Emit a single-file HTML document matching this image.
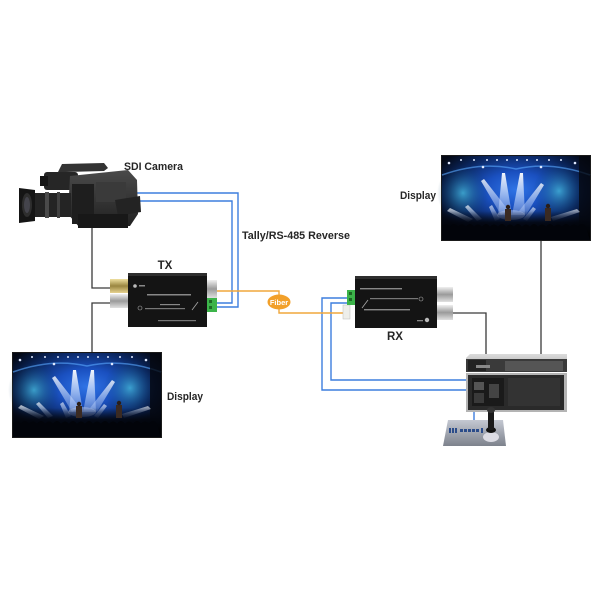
<!DOCTYPE html>
<html><head><meta charset="utf-8"><style>
html,body{margin:0;padding:0;background:#fff;}
svg{display:block;}
text{font-family:"Liberation Sans",Arial,sans-serif;}
</style></head><body>
<svg width="600" height="600" viewBox="0 0 600 600" xmlns="http://www.w3.org/2000/svg">
<defs>
  <radialGradient id="stage" cx="0.5" cy="0.4" r="0.6">
    <stop offset="0" stop-color="#2f74e6"/>
    <stop offset="0.35" stop-color="#1a50c0"/>
    <stop offset="0.7" stop-color="#0b2864"/>
    <stop offset="1" stop-color="#030814"/>
  </radialGradient>
  <radialGradient id="teal" cx="0.5" cy="0.5" r="0.5">
    <stop offset="0" stop-color="#45b8dc" stop-opacity="0.8"/>
    <stop offset="1" stop-color="#0a3a6a" stop-opacity="0"/>
  </radialGradient>
  <linearGradient id="beam" x1="0" y1="0" x2="0" y2="1">
    <stop offset="0" stop-color="#ffffff" stop-opacity="0.95"/>
    <stop offset="1" stop-color="#bcd4ff" stop-opacity="0.3"/>
  </linearGradient>
  <linearGradient id="crowd" x1="0" y1="0" x2="0" y2="1">
    <stop offset="0" stop-color="#050a18" stop-opacity="0"/>
    <stop offset="0.4" stop-color="#03060e" stop-opacity="0.9"/>
    <stop offset="1" stop-color="#000" stop-opacity="1"/>
  </linearGradient>
  <linearGradient id="rackTop" x1="0" y1="0" x2="0" y2="1">
    <stop offset="0" stop-color="#dcdcdc"/>
    <stop offset="1" stop-color="#a0a0a0"/>
  </linearGradient>
  <linearGradient id="kb" x1="0" y1="0" x2="0" y2="1">
    <stop offset="0" stop-color="#c4c8d2"/>
    <stop offset="1" stop-color="#7d828c"/>
  </linearGradient>
  <linearGradient id="silver" x1="0" y1="0" x2="0" y2="1">
    <stop offset="0" stop-color="#f0f0f0"/>
    <stop offset="0.5" stop-color="#9a9a9a"/>
    <stop offset="1" stop-color="#e0e0e0"/>
  </linearGradient>
  <linearGradient id="gold" x1="0" y1="0" x2="0" y2="1">
    <stop offset="0" stop-color="#efe0a0"/>
    <stop offset="0.5" stop-color="#9a8640"/>
    <stop offset="1" stop-color="#e6d290"/>
  </linearGradient>
  <linearGradient id="camBody" x1="0" y1="0" x2="0" y2="1">
    <stop offset="0" stop-color="#4a4a4a"/>
    <stop offset="1" stop-color="#202020"/>
  </linearGradient>
  <g id="concert">
    <rect x="0" y="0" width="150" height="86" fill="#1a1a1a"/>
    <rect x="1" y="1" width="148" height="84" fill="url(#stage)"/>
    <ellipse cx="22" cy="38" rx="26" ry="28" fill="url(#teal)"/>
    <ellipse cx="118" cy="36" rx="26" ry="28" fill="url(#teal)"/>
    <path d="M1,20 Q40,6 75,14 Q110,6 149,20" stroke="#5aa8ff" stroke-width="1.5" fill="none" opacity="0.6"/>
    <rect x="138" y="1" width="11" height="84" fill="#05080f" opacity="0.8"/>
    <g fill="#dfe9ff">
      <circle cx="8" cy="8" r="1.3"/><circle cx="20" cy="5" r="1"/><circle cx="33" cy="5" r="1"/>
      <circle cx="46" cy="5" r="1"/><circle cx="56" cy="5" r="1"/><circle cx="66" cy="5" r="1"/>
      <circle cx="76" cy="5" r="1"/><circle cx="86" cy="5" r="1"/><circle cx="96" cy="5" r="1"/>
      <circle cx="108" cy="5" r="1"/><circle cx="120" cy="5" r="1"/><circle cx="134" cy="8" r="1.3"/>
      <circle cx="42" cy="12" r="1.3"/><circle cx="100" cy="12" r="1.3"/>
    </g>
    <g fill="url(#beam)">
      <polygon points="61,18 64,18 71,60 57,60"/>
      <polygon points="79,18 82,18 84,60 71,60"/>
      <polygon points="40,26 43,24 68,56 60,60" opacity="0.85"/>
      <polygon points="100,28 103,30 85,60 78,56" opacity="0.85"/>
      <polygon points="6,56 9,53 32,64 27,67" opacity="0.75"/>
      <polygon points="24,52 27,50 41,64 36,66" opacity="0.75"/>
      <polygon points="136,54 139,57 112,66 110,62" opacity="0.65"/>
      <polygon points="48,52 51,50 59,64 54,66" opacity="0.65"/>
      <polygon points="92,52 95,54 86,66 82,64" opacity="0.65"/>
    </g>
    <ellipse cx="70" cy="60" rx="14" ry="5" fill="#dfe8ff" opacity="0.35"/>
    <rect x="1" y="56" width="148" height="29" fill="url(#crowd)"/>
    <path d="M1,72 q4,-5 8,0 q4,-6 8,0 q4,-5 8,0 q4,-6 8,0 q4,-5 8,0 q4,-6 8,0 q4,-5 8,0 q4,-6 8,0 q4,-5 8,0 q4,-6 8,0 q4,-5 8,0 q4,-6 8,0 q4,-5 8,0 q4,-6 8,0 q4,-5 8,0 q4,-6 8,0 q4,-5 8,0 q4,-6 8,0 L149,85 L1,85 Z" fill="#02040a"/>
    <rect x="64" y="54" width="6" height="12" fill="#3a2a22"/>
    <circle cx="67" cy="52" r="2.2" fill="#2a1e18"/>
    <rect x="104" y="53" width="6" height="13" fill="#3a2a22"/>
    <circle cx="107" cy="51" r="2.2" fill="#2a1e18"/>
  </g>
</defs>

<rect width="600" height="600" fill="#fff"/>

<!-- Black connectors -->
<g stroke="#3a3a3a" stroke-width="1.3" fill="none">
  <path d="M92,226 V288 H112"/>
  <path d="M112,303 H92 V352"/>
  <path d="M541,241 V356"/>
  <path d="M452,313 H486 V356"/>
</g>

<!-- Blue connectors -->
<g stroke="#3d7ede" stroke-width="1.4" fill="none">
  <path d="M137,193 H238 V307 H215"/>
  <path d="M137,201 H232 V303 H215"/>
  <path d="M347,298 H322 V390 H467"/>
  <path d="M347,303 H331 V380 H467"/>
  <path d="M474,412 V440"/>
</g>

<!-- Orange fiber -->
<g stroke="#f0a73c" stroke-width="1.4" fill="none">
  <path d="M217,291 H279 V296"/>
  <path d="M279,308 V313 H344"/>
</g>
<ellipse cx="279" cy="302" rx="11.5" ry="7.5" fill="#f2a02a"/>
<text x="279" y="305" font-size="7.5" font-weight="bold" fill="#fff" text-anchor="middle">Fiber</text>

<!-- Camera -->
<g>
  <path d="M58,172 L62,164 L104,163 L108,168 L104,171 L66,172 Z" fill="#333"/>
  <rect x="44" y="172" width="34" height="18" rx="3" fill="#262626"/>
  <rect x="40" y="176" width="8" height="10" fill="#161616"/>
  <path d="M70,176 L128,170 L137,180 L138,214 L130,226 L80,228 L68,214 Z" fill="url(#camBody)"/>
  <rect x="72" y="184" width="22" height="40" fill="#1e1e1e"/>
  <rect x="96" y="182" width="30" height="20" fill="#3a3a3a"/>
  <path d="M115,200 L140,196 L141,212 L118,216 Z" fill="#232323"/>
  <rect x="78" y="214" width="50" height="14" fill="#181818"/>
  <rect x="33" y="193" width="38" height="24" fill="#242424"/>
  <rect x="45" y="192" width="4" height="26" fill="#4a4a4a"/>
  <rect x="57" y="192" width="3" height="26" fill="#404040"/>
  <path d="M19,188 L35,190 L35,221 L19,223 Z" fill="#151515"/>
  <ellipse cx="27" cy="205" rx="5" ry="12" fill="#2e2e2e"/>
  <ellipse cx="27" cy="205" rx="3" ry="8" fill="#44444c"/>
</g>

<!-- TX box -->
<g>
  <rect x="110" y="279" width="19" height="14" fill="url(#gold)"/>
  <rect x="110" y="294" width="19" height="14" fill="url(#silver)"/>
  <rect x="206" y="280" width="11" height="18" fill="url(#silver)"/>
  <rect x="207" y="298" width="10" height="14" fill="#3cb44a"/>
  <rect x="209" y="300" width="3" height="3" fill="#1d6a25"/>
  <rect x="209" y="306" width="3" height="3" fill="#1d6a25"/>
  <rect x="128" y="273" width="79" height="54" fill="#141414"/>
  <rect x="128" y="273" width="79" height="3" fill="#2e2e2e"/>
  <circle cx="135" cy="286" r="1.8" fill="#bbb"/>
  <rect x="139" y="285" width="6" height="1.5" fill="#888"/>
  <rect x="147" y="294" width="44" height="1.5" fill="#888"/>
  <rect x="160" y="304" width="20" height="1.2" fill="#888"/>
  <circle cx="140" cy="308" r="2" fill="none" stroke="#aaa" stroke-width="0.6"/>
  <rect x="145" y="308" width="40" height="1.2" fill="#777"/>
  <path d="M192,310 L198,302" stroke="#aaa" stroke-width="0.8"/>
  <rect x="158" y="320" width="38" height="1.2" fill="#777"/>
</g>

<!-- RX box -->
<g>
  <rect x="437" y="287" width="16" height="15" fill="url(#silver)"/>
  <rect x="437" y="305" width="16" height="15" fill="url(#silver)"/>
  <rect x="343" y="305" width="7" height="14" fill="#eeeeea" stroke="#bbb" stroke-width="0.5"/>
  <rect x="347" y="290" width="9" height="15" fill="#3cb44a"/>
  <rect x="349" y="292" width="3" height="3" fill="#1d6a25"/>
  <rect x="349" y="298" width="3" height="3" fill="#1d6a25"/>
  <rect x="355" y="276" width="82" height="52" fill="#141414"/>
  <rect x="355" y="276" width="82" height="3" fill="#2e2e2e"/>
  <rect x="360" y="288" width="42" height="1.4" fill="#888"/>
  <path d="M362,308 L368,300" stroke="#aaa" stroke-width="0.8"/>
  <rect x="370" y="298" width="48" height="1.2" fill="#777"/>
  <circle cx="421" cy="299" r="2" fill="none" stroke="#aaa" stroke-width="0.6"/>
  <rect x="364" y="309" width="46" height="1.4" fill="#888"/>
  <rect x="417" y="320" width="6" height="1.3" fill="#888"/>
  <circle cx="427" cy="320" r="2.2" fill="#bbb"/>
</g>

<!-- Displays -->
<use href="#concert" transform="translate(441,155)"/>
<use href="#concert" transform="translate(12,352)"/>

<!-- Rack units -->
<g>
  <path d="M466,358 L470,354 L567,354 L567,372 L466,372 Z" fill="url(#rackTop)"/>
  <rect x="466" y="359" width="101" height="13" fill="#3a3a3a"/>
  <rect x="468" y="360" width="18" height="11" fill="#222"/>
  <rect x="476" y="365" width="14" height="3" fill="#888"/>
  <rect x="505" y="361" width="58" height="10" fill="#555"/>
  <path d="M466,373 L567,373 L567,412 L466,412 Z" fill="#b4b4b4"/>
  <rect x="468" y="375" width="96" height="35" fill="#2a2a2a"/>
  <rect x="472" y="378" width="32" height="28" fill="#1a1a1a"/>
  <rect x="474" y="382" width="10" height="8" fill="#555"/>
  <rect x="474" y="393" width="10" height="10" fill="#3a3a3a"/>
  <rect x="489" y="384" width="10" height="14" fill="#444"/>
  <rect x="508" y="378" width="52" height="28" fill="#333"/>
</g>

<!-- Keyboard + joystick -->
<g>
  <path d="M448,420 L503,420 L506,446 L443,446 Z" fill="url(#kb)"/>
  <g fill="#2b4c8a">
    <rect x="449" y="428" width="2" height="5"/><rect x="452" y="428" width="2" height="5"/><rect x="455" y="428" width="2" height="5"/>
    <rect x="460" y="429" width="3" height="3"/><rect x="464" y="429" width="3" height="3"/><rect x="468" y="429" width="3" height="3"/><rect x="472" y="429" width="3" height="3"/><rect x="476" y="429" width="3" height="3"/>
    <rect x="481" y="428" width="2" height="5"/>
  </g>
  <ellipse cx="491" cy="437" rx="8" ry="5" fill="#dcdce4"/>
  <ellipse cx="491" cy="430" rx="5" ry="3" fill="#111"/>
  <rect x="488" y="410" width="6" height="20" rx="2" fill="#1a1a1a"/>
  <ellipse cx="491" cy="410" rx="4" ry="3" fill="#333"/>
</g>

<!-- Labels -->
<g font-weight="bold" font-size="11" fill="#262626">
  <text x="124" y="170" textLength="59" lengthAdjust="spacingAndGlyphs">SDI Camera</text>
  <text x="242" y="239" textLength="108" lengthAdjust="spacingAndGlyphs">Tally/RS-485 Reverse</text>
  <text x="165" y="269" text-anchor="middle" font-size="11.5">TX</text>
  <text x="395" y="340" text-anchor="middle" font-size="11.5">RX</text>
  <text x="400" y="199" textLength="36" lengthAdjust="spacingAndGlyphs">Display</text>
  <text x="167" y="400" textLength="36" lengthAdjust="spacingAndGlyphs">Display</text>
</g>
</svg>
</body></html>
